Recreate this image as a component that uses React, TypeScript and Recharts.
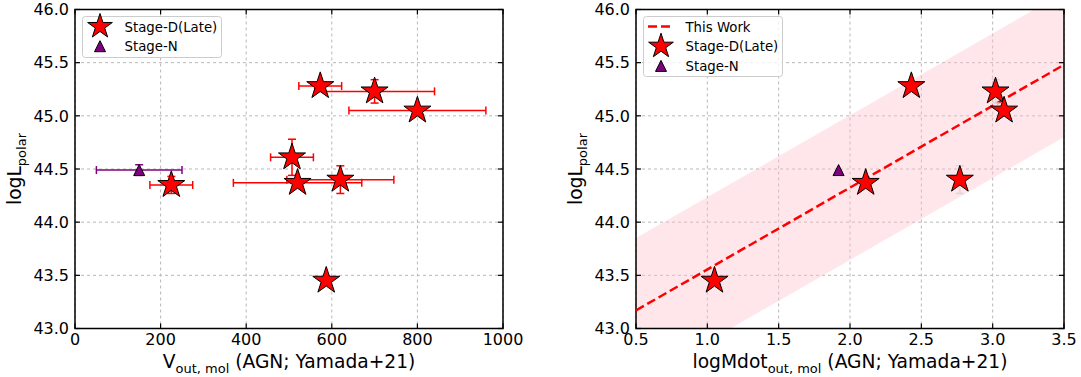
import React from 'react';
import {
  ScatterChart,
  ComposedChart,
  Scatter,
  Line,
  Area,
  XAxis,
  YAxis,
  CartesianGrid,
  ErrorBar,
  ReferenceArea,
  Legend,
} from 'recharts';

const FONT = 'DejaVu Sans';

// Stage-D (late): outflow velocity vs polar luminosity
const stageDVout = [573, 700, 800, 507, 520, 620, 225, 587];
const stageDVoutErr = [50, 140, 160, 50, 150, 125, 50, 0];
const stageDLpolar = [45.28, 45.23, 45.05, 44.61, 44.37, 44.4, 44.35, 43.45];
const stageDLpolarErr = [0, 0.11, 0, 0.17, 0, 0.13, 0.08, 0];

// Stage-N
const stageNVout = [150];
const stageNVoutErr = [100];
const stageNLpolar = [44.49];
const stageNLpolarErr = [0.05];

// right panel: mass outflow rate
const stageDMdot = [2.43, 3.02, 3.08, 2.77, 2.11, 1.05];
const stageDMdotLpolar = [45.28, 45.23, 45.05, 44.4, 44.37, 43.45];
const stageDMdotLpolarErr = [0, 0.11, 0, 0.13, 0, 0];
const stageNMdot = [1.92];
const stageNMdotLpolar = [44.49];

// "This Work" relation and its scatter band
const fitMdot = [0.5, 3.5];
const fitLpolar = [43.17, 45.48];
const fitLower = [42.49, 44.8];
const fitUpper = [43.85, 46.16];

const vTicks = [0, 200, 400, 600, 800, 1000];
const mdotTicks = [0.5, 1.0, 1.5, 2.0, 2.5, 3.0, 3.5];
const lTicks = [43.0, 43.5, 44.0, 44.5, 45.0, 45.5, 46.0];

const leftStars = stageDVout.map((x, i) => ({
  x,
  y: stageDLpolar[i],
  xErr: stageDVoutErr[i],
  yErr: stageDLpolarErr[i],
}));
const leftTri = stageNVout.map((x, i) => ({
  x,
  y: stageNLpolar[i],
  xErr: stageNVoutErr[i],
  yErr: stageNLpolarErr[i],
}));
const rightStars = stageDMdot.map((x, i) => ({
  x,
  y: stageDMdotLpolar[i],
  yErr: stageDMdotLpolarErr[i],
}));
const rightTri = stageNMdot.map((x, i) => ({ x, y: stageNMdotLpolar[i] }));
const fitLine = fitMdot.map((x, i) => ({ x, fit: fitLpolar[i] }));
const fitBand = fitMdot.map((x, i) => ({ x, band: [fitLower[i], fitUpper[i]] }));

// plot frame: both panels share the same height, each is 428px wide
const TOP = 9.5;
const TICK = 5;
const LEFT_PLOT_RIGHT = 503;
const RIGHT_PLOT_RIGHT = 524;

const Star = ({ cx, cy, r = 14.2 }: any) => {
  const pts: string[] = [];
  for (let i = 0; i < 10; i++) {
    const rad = i % 2 === 0 ? r : r * 0.382;
    const a = -Math.PI / 2 + (i * Math.PI) / 5;
    pts.push(`${cx + rad * Math.cos(a)},${cy + rad * Math.sin(a)}`);
  }
  return <polygon points={pts.join(' ')} fill="#ff0000" stroke="#000" strokeWidth={1} />;
};

const Tri = ({ cx, cy, r = 5.5 }: any) => (
  <polygon
    points={`${cx},${cy - r} ${cx - r},${cy + r} ${cx + r},${cy + r}`}
    fill="#800080"
    stroke="#000"
    strokeWidth={1}
  />
);

const NoMark = () => <g />;

const XTick = ({ x, y, payload, fmt }: any) => (
  <g>
    <line x1={x} y1={y} x2={x} y2={y - TICK} stroke="#000" strokeWidth={1.2} />
    <line x1={x} y1={TOP} x2={x} y2={TOP + TICK} stroke="#000" strokeWidth={1.2} />
    <text x={x} y={y + 16.5} textAnchor="middle" fontSize={16} fontFamily={FONT} fill="#000">
      {fmt(payload.value)}
    </text>
  </g>
);

const YTick = ({ x, y, payload, right }: any) => (
  <g>
    <line x1={x} y1={y} x2={x + TICK} y2={y} stroke="#000" strokeWidth={1.2} />
    <line x1={right} y1={y} x2={right - TICK} y2={y} stroke="#000" strokeWidth={1.2} />
    <text x={x - 6} y={y + 5.8} textAnchor="end" fontSize={16} fontFamily={FONT} fill="#000">
      {payload.value.toFixed(1)}
    </text>
  </g>
);

const XTitle = ({ midX, main, sub, rest }: any) => (
  <text x={midX} y={368} textAnchor="middle" fontSize={18.67} fontFamily={FONT} fill="#000">
    {main}
    <tspan fontSize={13} dy={4.5}>
      {sub}
    </tspan>
    <tspan dy={-4.5}>{rest}</tspan>
  </text>
);

const YTitle = ({ baseX }: any) => (
  <text
    transform={`translate(${baseX},169) rotate(-90)`}
    textAnchor="middle"
    fontSize={18.67}
    fontFamily={FONT}
    fill="#000"
  >
    logL
    <tspan fontSize={13} dy={4.5}>
      polar
    </tspan>
  </text>
);

type Row = { kind: 'line' | 'star' | 'tri'; text: string };

const LegendBox = ({ width, height, rows }: { width: number; height: number; rows: Row[] }) => (
  <svg width={width} height={height} style={{ display: 'block', overflow: 'visible' }}>
    <rect
      x={0.5}
      y={0.5}
      width={width - 1}
      height={height - 1}
      rx={3}
      fill="#fff"
      fillOpacity={0.8}
      stroke="#cccccc"
    />
    {rows.map((row, i) => {
      const cy = 10.5 + i * 19.7;
      return (
        <g key={row.text}>
          {row.kind === 'line' && (
            <line x1={5} y1={cy} x2={31} y2={cy} stroke="#ff0000" strokeWidth={2.5} strokeDasharray="9 4" />
          )}
          {row.kind === 'star' && <Star cx={18} cy={cy} r={13} />}
          {row.kind === 'tri' && <Tri cx={18} cy={cy} />}
          <text x={42.5} y={cy + 5} fontSize={13.3} fontFamily={FONT} fill="#000">
            {row.text}
          </text>
        </g>
      );
    })}
  </svg>
);

const VoutPanel = () => (
  <ScatterChart
    width={540}
    height={377}
    margin={{ top: TOP, right: 540 - LEFT_PLOT_RIGHT, bottom: 18.5, left: 13 }}
    style={{ fontFamily: FONT }}
  >
    <CartesianGrid stroke="#b8b8b8" strokeDasharray="3 3" />
    <XAxis
      type="number"
      dataKey="x"
      domain={[0, 1000]}
      ticks={vTicks}
      allowDataOverflow
      axisLine={false}
      tickLine={false}
      tickSize={0}
      tickMargin={0}
      height={30}
      interval={0}
      tick={(p: any) => <XTick {...p} fmt={(v: number) => String(v)} />}
      label={<XTitle midX={289} main="V" sub="out, mol" rest=" (AGN; Yamada+21)" />}
    />
    <YAxis
      type="number"
      dataKey="y"
      domain={[43, 46]}
      ticks={lTicks}
      allowDataOverflow
      axisLine={false}
      tickLine={false}
      tickSize={0}
      tickMargin={0}
      width={62}
      interval={0}
      tick={(p: any) => <YTick {...p} right={LEFT_PLOT_RIGHT} />}
      label={<YTitle baseX={21} />}
    />
    <ReferenceArea x1={0} x2={1000} y1={43} y2={46} fill="none" stroke="#000" strokeWidth={1.5} />
    {/* error bars sit under the markers */}
    <Scatter data={leftTri} shape={NoMark} isAnimationActive={false} legendType="none">
      <ErrorBar dataKey="xErr" direction="x" width={4} stroke="#800080" strokeWidth={1.5} />
      <ErrorBar dataKey="yErr" direction="y" width={4} stroke="#800080" strokeWidth={1.5} />
    </Scatter>
    <Scatter data={leftStars} shape={NoMark} isAnimationActive={false} legendType="none">
      <ErrorBar dataKey="xErr" direction="x" width={4} stroke="#ff0000" strokeWidth={1.5} />
      <ErrorBar dataKey="yErr" direction="y" width={4} stroke="#ff0000" strokeWidth={1.5} />
    </Scatter>
    <Scatter data={leftTri} shape={(p: any) => <Tri cx={p.cx} cy={p.cy} />} isAnimationActive={false} />
    <Scatter data={leftStars} shape={(p: any) => <Star cx={p.cx} cy={p.cy} />} isAnimationActive={false} />
    <Legend
      layout="horizontal"
      verticalAlign="middle"
      align="center"
      wrapperStyle={{ left: 81.5, top: 16, width: 140, height: 42 }}
      content={() => (
        <LegendBox
          width={140}
          height={42}
          rows={[
            { kind: 'star', text: 'Stage-D(Late)' },
            { kind: 'tri', text: 'Stage-N' },
          ]}
        />
      )}
    />
  </ScatterChart>
);

const MdotPanel = () => (
  <ComposedChart
    width={541}
    height={377}
    margin={{ top: TOP, right: 541 - RIGHT_PLOT_RIGHT, bottom: 18.5, left: 34 }}
    style={{ fontFamily: FONT }}
  >
    <CartesianGrid stroke="#b8b8b8" strokeDasharray="3 3" />
    <XAxis
      type="number"
      dataKey="x"
      domain={[0.5, 3.5]}
      ticks={mdotTicks}
      allowDataOverflow
      axisLine={false}
      tickLine={false}
      tickSize={0}
      tickMargin={0}
      height={30}
      interval={0}
      tick={(p: any) => <XTick {...p} fmt={(v: number) => v.toFixed(1)} />}
      label={<XTitle midX={310} main="logMdot" sub="out, mol" rest=" (AGN; Yamada+21)" />}
    />
    <YAxis
      type="number"
      dataKey="y"
      domain={[43, 46]}
      ticks={lTicks}
      allowDataOverflow
      axisLine={false}
      tickLine={false}
      tickSize={0}
      tickMargin={0}
      width={62}
      interval={0}
      tick={(p: any) => <YTick {...p} right={RIGHT_PLOT_RIGHT} />}
      label={<YTitle baseX={42} />}
    />
    <Area
      data={fitBand}
      dataKey="band"
      type="linear"
      fill="#ffc0cb"
      fillOpacity={0.4}
      stroke="none"
      isAnimationActive={false}
    />
    <ReferenceArea x1={0.5} x2={3.5} y1={43} y2={46} fill="none" stroke="#000" strokeWidth={1.5} />
    <Line
      data={fitLine}
      dataKey="fit"
      type="linear"
      stroke="#ff0000"
      strokeWidth={2.5}
      strokeDasharray="9 4"
      dot={false}
      isAnimationActive={false}
    />
    <Scatter data={rightStars} dataKey="y" shape={NoMark} isAnimationActive={false} legendType="none">
      <ErrorBar dataKey="yErr" direction="y" width={4} stroke="#d9d9d9" strokeWidth={1.5} />
    </Scatter>
    <Scatter
      data={rightStars}
      dataKey="y"
      shape={(p: any) => <Star cx={p.cx} cy={p.cy} />}
      isAnimationActive={false}
    />
    <Scatter
      data={rightTri}
      dataKey="y"
      shape={(p: any) => <Tri cx={p.cx} cy={p.cy} />}
      isAnimationActive={false}
    />
    <Legend
      layout="horizontal"
      verticalAlign="middle"
      align="center"
      wrapperStyle={{ left: 102.5, top: 16, width: 140, height: 61 }}
      content={() => (
        <LegendBox
          width={140}
          height={61}
          rows={[
            { kind: 'line', text: 'This Work' },
            { kind: 'star', text: 'Stage-D(Late)' },
            { kind: 'tri', text: 'Stage-N' },
          ]}
        />
      )}
    />
  </ComposedChart>
);

export default function App() {
  return (
    <div
      style={{
        position: 'absolute',
        left: 0,
        top: 0,
        width: 1081,
        height: 377,
        background: '#fff',
        overflow: 'hidden',
      }}
    >
      <div style={{ position: 'absolute', left: 0, top: 0 }}>
        <VoutPanel />
      </div>
      <div style={{ position: 'absolute', left: 540, top: 0 }}>
        <MdotPanel />
      </div>
    </div>
  );
}
